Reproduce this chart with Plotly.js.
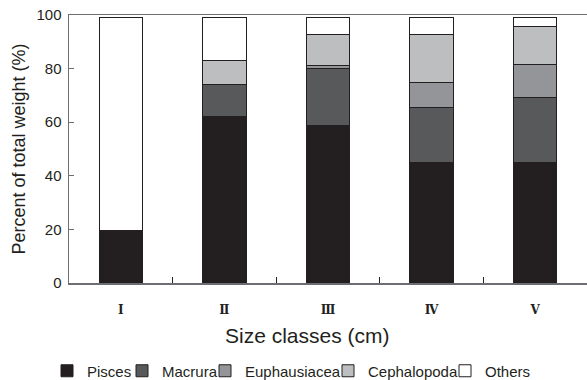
<!DOCTYPE html>
<html><head><meta charset="utf-8">
<script src="https://cdn.plot.ly/plotly-3.0.1.min.js"></script>
<style>html,body{margin:0;padding:0;background:#fff;overflow:hidden}</style>
</head><body>
<div id="chart" style="width:587px;height:380px"></div>
<script>
const categories = ["Ⅰ","Ⅱ","Ⅲ","Ⅳ","Ⅴ"];
const pisces = [19.7, 62.0, 58.9, 44.9, 44.9];
const macrura = [0, 11.9, 21.3, 20.7, 24.5];
const euphausiacea = [0, 0, 0.8, 9.1, 12.1];
const cephalopoda = [0, 9.1, 11.7, 18.0, 14.2];
const others = [79.5, 16.2, 6.5, 6.5, 3.5];
const seriesNames = ["Pisces","Macrura","Euphausiacea","Cephalopoda","Others"];
const seriesColors = ["#231f20","#58595b","#939598","#bcbec0","#ffffff"];
const yTicks = [0,20,40,60,80,100];
const xTitle = "Size classes (cm)";
const yTitle = "Percent of total weight (%)";

// layout positions of the legend entries (text left edge, px)
const legendTextLeft = [82, 157, 240, 363, 480];
const plotLeft = 69, plotWidth = 518;

const values = [pisces, macrura, euphausiacea, cephalopoda, others];
const legendIds = ['legend','legend2','legend3','legend4','legend5'];
const traces = values.map((v,i)=>({
  type:'bar', name:seriesNames[i], x:categories, y:v,
  width:0.42, legend:legendIds[i],
  marker:{color:seriesColors[i], line:{color:'#231f20', width:1}}
}));

const layout = {
  barmode:'stack',
  width:587, height:380,
  margin:{l:69, r:0, t:15, b:97, autoexpand:false},
  paper_bgcolor:'#fff', plot_bgcolor:'#fff',
  font:{family:'Arial, Liberation Sans, sans-serif', color:'#231f20', size:15},
  showlegend:true,
  xaxis:{type:'category', range:[-0.5,4.5], automargin:false, showline:true, linecolor:'#6d6e71', linewidth:1.5, mirror:true,
         ticks:'inside', ticklen:6, tickcolor:'#231f20', tickson:'boundaries', ticklabelstandoff:15,
         tickfont:{family:'DejaVu Serif, Liberation Serif, serif', size:12, color:'#231f20', weight:'bold'},
         showgrid:false, zeroline:false},
  yaxis:{range:[0,100], automargin:false, tickvals:yTicks, ticktext:yTicks.map(String), showline:true, linecolor:'#6d6e71', linewidth:1.5,
         ticks:'inside', ticklen:5, tickcolor:'#6d6e71', showgrid:false, zeroline:false, ticklabelstandoff:3,
         tickfont:{size:15, color:'#231f20'},
         title:{text:yTitle, font:{size:18, color:'#231f20'}, standoff:6}},
  annotations:[{text:xTitle, xref:'paper', yref:'paper', x:0.461, y:-0.195, xanchor:'center', yanchor:'middle',
                showarrow:false, font:{size:21, color:'#231f20'}}]
};
legendIds.forEach((id,i)=>{
  layout[id] = {orientation:'h', x:(legendTextLeft[i]-35-plotLeft)/plotWidth, xanchor:'left',
                yref:'container', y:(380-371)/380, yanchor:'middle', bgcolor:'rgba(0,0,0,0)',
                font:{size:15, color:'#231f20'}, itemwidth:30};
});
Plotly.newPlot('chart', traces, layout, {displayModeBar:false, staticPlot:true});
</script>
</body></html>
